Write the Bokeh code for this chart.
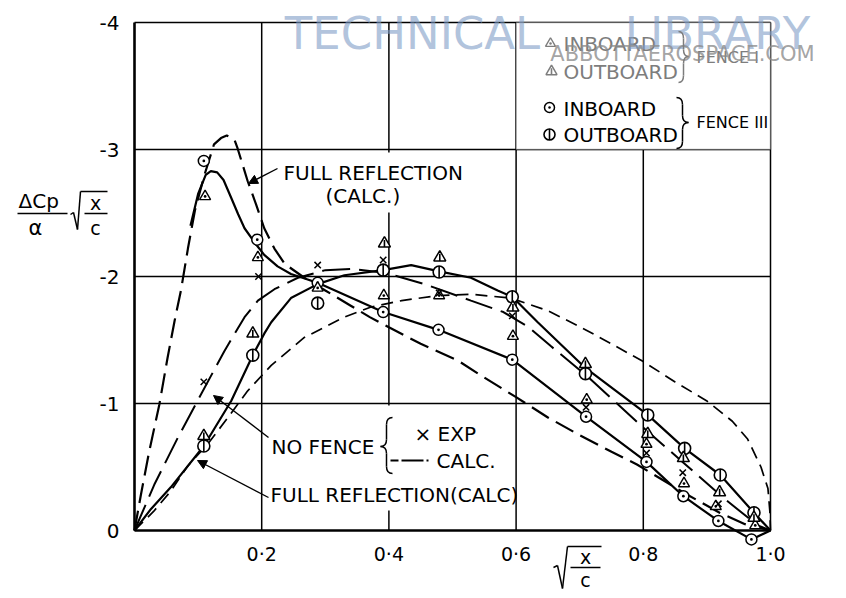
import math
from bokeh.plotting import figure
from bokeh.models import Range1d, FixedTicker, Label, Arrow, NormalHead, BoxAnnotation, LinearAxis
from bokeh.embed import file_html
from bokeh.resources import INLINE

# ---------------- data ----------------
x_ticks = [0.2, 0.4, 0.6, 0.8, 1.0]
x_tick_labels = ["0·2", "0·4", "0·6", "0·8", "1·0"]
y_ticks = [0, -1, -2, -3, -4]
y_tick_labels = ["0", "-1", "-2", "-3", "-4"]

# Full reflection (calc.) - upper, long dashes
fr_upper_x = [0, 0.010, 0.023, 0.039, 0.052, 0.063, 0.073, 0.084, 0.095, 0.110, 0.125, 0.136,
              0.145, 0.157, 0.162, 0.170, 0.178, 0.191, 0.204, 0.220, 0.236, 0.267, 0.300,
              0.340, 0.370, 0.400, 0.450, 0.508, 0.545, 0.600, 0.650, 0.700, 0.750, 0.790,
              0.830, 0.870, 0.920, 0.960, 1.000]
fr_upper_y = [0, -0.28, -0.62, -0.99, -1.36, -1.65, -1.89, -2.22, -2.52, -2.80, -3.04, -3.09,
              -3.11, -3.08, -3.01, -2.88, -2.75, -2.57, -2.38, -2.22, -2.10, -1.99, -1.89,
              -1.77, -1.68, -1.60, -1.47, -1.34, -1.22, -1.05, -0.89, -0.75, -0.62, -0.52,
              -0.40, -0.28, -0.14, -0.05, 0]

# Full reflection (calc.) - lower, short dashes
fr_lower_x = [0, 0.030, 0.057, 0.084, 0.115, 0.147, 0.178, 0.215, 0.267, 0.330, 0.372, 0.420,
              0.477, 0.530, 0.592, 0.650, 0.702, 0.750, 0.800, 0.850, 0.900, 0.940, 0.964,
              0.985, 0.996, 0.999, 1.000]
fr_lower_y = [0, -0.15, -0.31, -0.51, -0.68, -0.89, -1.10, -1.30, -1.52, -1.68, -1.76, -1.81,
              -1.85, -1.86, -1.83, -1.73, -1.60, -1.47, -1.33, -1.17, -1.02, -0.86, -0.72,
              -0.50, -0.33, -0.15, 0]

# No fence (calc.)
nf_calc_x = [0, 0.031, 0.068, 0.099, 0.141, 0.173, 0.194, 0.220, 0.257, 0.300, 0.340, 0.393,
             0.456, 0.529, 0.580, 0.620, 0.655, 0.713, 0.800, 0.864, 0.930, 0.980, 1.000]
nf_calc_y = [0, -0.36, -0.73, -1.02, -1.41, -1.68, -1.81, -1.90, -1.99, -2.05, -2.06, -2.03,
             -1.94, -1.81, -1.72, -1.60, -1.45, -1.21, -0.81, -0.53, -0.24, -0.04, 0]

# Faired curve through fence III inboard points
in_line_x = [0.088, 0.100, 0.112, 0.120, 0.130, 0.140, 0.152, 0.163, 0.173, 0.190, 0.204,
             0.225, 0.246, 0.270, 0.288, 0.391, 0.478, 0.594, 0.710, 0.805, 0.863, 0.918,
             0.970, 1.000]
in_line_y = [-2.40, -2.65, -2.80, -2.83, -2.82, -2.76, -2.62, -2.49, -2.38, -2.26, -2.17,
             -2.08, -2.02, -1.98, -1.95, -1.72, -1.58, -1.345, -0.896, -0.54, -0.27, -0.075,
             0.07, 0]

# Faired curve through fence III outboard points
out_line_x = [0, 0.026, 0.057, 0.109, 0.152, 0.186, 0.204, 0.215, 0.246, 0.288, 0.330, 0.391,
              0.435, 0.479, 0.529, 0.571, 0.594, 0.634, 0.709, 0.807, 0.865, 0.921, 0.974, 1.0]
out_line_y = [0, -0.17, -0.34, -0.665, -1.02, -1.38, -1.55, -1.64, -1.83, -1.94, -2.01, -2.05,
              -2.09, -2.04, -1.99, -1.89, -1.84, -1.64, -1.28, -0.91, -0.647, -0.437, -0.14, 0]

# Experimental points
f3_in_x = [0.109, 0.193, 0.288, 0.391, 0.478, 0.594, 0.710, 0.805, 0.863, 0.918, 0.970]
f3_in_y = [-2.91, -2.29, -1.95, -1.72, -1.58, -1.345, -0.896, -0.54, -0.27, -0.075, 0.07]

f3_out_x = [0.109, 0.186, 0.288, 0.391, 0.479, 0.594, 0.709, 0.807, 0.865, 0.921, 0.974]
f3_out_y = [-0.665, -1.38, -1.79, -2.05, -2.035, -1.84, -1.235, -0.91, -0.647, -0.437, -0.14]

f1_in_x = [0.111, 0.194, 0.288, 0.392, 0.479, 0.595, 0.711, 0.805, 0.864, 0.914, 0.976]
f1_in_y = [-2.63, -2.15, -1.91, -1.85, -1.85, -1.53, -1.03, -0.68, -0.37, -0.19, -0.04]

f1_out_x = [0.109, 0.186, 0.393, 0.480, 0.595, 0.709, 0.807, 0.863, 0.920, 0.974]
f1_out_y = [-0.744, -1.55, -2.26, -2.15, -1.755, -1.31, -0.76, -0.57, -0.30, -0.10]

nf_exp_x = [0.109, 0.195, 0.288, 0.391, 0.479, 0.594, 0.710, 0.805, 0.862, 0.918]
nf_exp_y = [-1.17, -2.00, -2.09, -2.13, -1.87, -1.69, -0.97, -0.61, -0.455, -0.21]

# ---------------- figure ----------------
FONT = "DejaVu Sans"
W, H = 846, 598
FL, FT, FW, FH = 134, 22, 636, 508   # where the data box (0..1, 0..-4) sits on the page

def X(px):
    return (px - FL) / FW

def Y(py):
    return -4.0 * (FT + FH - py) / FH

# the plotting frame covers the whole page so that the lettering round the box is not clipped
p = figure(width=W, height=H, min_border=0,
           x_range=Range1d(X(0), X(W)), y_range=Range1d(Y(H), Y(0)),
           x_axis_location=None, y_axis_location=None,
           output_backend="svg", toolbar_location=None)
p.background_fill_color = "white"
p.border_fill_color = "white"
p.outline_line_color = None
p.grid.visible = False

xaxis = LinearAxis(fixed_location=0, bounds=(0, 1), ticker=FixedTicker(ticks=x_ticks),
                   major_label_overrides={v: s for v, s in zip(x_ticks, x_tick_labels)})
yaxis = LinearAxis(fixed_location=0, bounds=(-4, 0), ticker=FixedTicker(ticks=y_ticks),
                   major_label_overrides={v: s for v, s in zip(y_ticks, y_tick_labels)})
for ax in (xaxis, yaxis):
    ax.axis_line_color = "black"
    ax.axis_line_width = 2.6
    ax.major_tick_line_color = None
    ax.minor_tick_line_color = None
    ax.major_label_text_font = FONT
    ax.major_label_text_color = "black"
xaxis.major_label_text_font_size = "19px"
xaxis.major_label_standoff = 6
yaxis.major_label_text_font_size = "20px"
yaxis.major_label_standoff = 9
p.add_layout(xaxis, "below")
p.add_layout(yaxis, "left")

# grid lines at the tick values
gx = x_ticks
gy = y_ticks[1:]
p.segment(x0=gx, y0=[y_ticks[0]] * len(gx), x1=gx, y1=[y_ticks[-1]] * len(gx),
          line_color="black", line_width=1.5, level="underlay")
p.segment(x0=[0] * len(gy), y0=gy, x1=[x_ticks[-1]] * len(gy), y1=gy,
          line_color="black", line_width=1.5, level="underlay")

# ---------------- curves ----------------
p.line(fr_upper_x, fr_upper_y, line_color="black", line_width=2.2, line_dash="20 8")
p.line(fr_lower_x, fr_lower_y, line_color="black", line_width=1.7, line_dash="12 7")
p.line(nf_calc_x, nf_calc_y, line_color="black", line_width=2.0, line_dash="28 9")
p.line(in_line_x, in_line_y, line_color="black", line_width=2.2)
p.line(out_line_x, out_line_y, line_color="black", line_width=2.2)

# ---------------- markers ----------------
def tri_in(xs, ys, color="black", level="glyph", size=11):
    p.scatter(xs, ys, marker="triangle_dot", size=size, line_color=color,
              fill_color="white", line_width=1.4, level=level)

def tri_out(xs, ys, color="black", level="glyph", size=12):
    p.scatter(xs, ys, marker="triangle", size=size, line_color=color,
              fill_color="white", line_width=1.5, level=level)
    p.scatter(xs, ys, marker="dash", angle=math.pi / 2, size=size * 0.6,
              line_color=color, line_width=1.6, level=level)

def circ_in(xs, ys, color="black", level="glyph", size=11):
    p.scatter(xs, ys, marker="circle_dot", size=size, line_color=color,
              fill_color="white", line_width=1.5, level=level)

def circ_out(xs, ys, color="black", level="glyph", size=12):
    p.scatter(xs, ys, marker="circle", size=size, line_color=color,
              fill_color="white", line_width=1.6, level=level)
    p.scatter(xs, ys, marker="dash", angle=math.pi / 2, size=size,
              line_color=color, line_width=1.6, level=level)

def cross(xs, ys, color="black", level="glyph", size=9):
    p.scatter(xs, ys, marker="x", size=size, line_color=color, line_width=1.5, level=level)

circ_in(f3_in_x, f3_in_y)
circ_out(f3_out_x, f3_out_y)
tri_in(f1_in_x, f1_in_y)
tri_out(f1_out_x, f1_out_y)
cross(nf_exp_x, nf_exp_y)

# ---------------- annotation helpers ----------------
def label(text, px, py, size=20, align="left", color="black", alpha=1.0, baseline="middle"):
    p.add_layout(Label(x=X(px), y=Y(py), text=text,
                       text_font=FONT, text_font_size=f"{size}px", text_align=align,
                       text_baseline=baseline, text_color=color, text_alpha=alpha))

def seg(px0, py0, px1, py1, width=1.5, color="black"):
    p.add_layout(Arrow(start=None, end=None, x_start=X(px0), y_start=Y(py0),
                       x_end=X(px1), y_end=Y(py1), line_width=width, line_color=color))

def arrow(px0, py0, px1, py1):
    p.add_layout(Arrow(end=NormalHead(size=9, fill_color="black", line_color="black", line_width=1),
                       x_start=X(px0), y_start=Y(py0), x_end=X(px1), y_end=Y(py1),
                       line_width=1.4, line_color="black"))

def brace(xt, yc, y0, y1, w, direction, color="black", level="overlay", lw=1.5):
    xm = xt - direction * w / 2
    xa = xt - direction * w
    r = min(7, (y1 - y0) / 4)
    q = [((xa, y0), (xm, y0), (xm, y0 + r)),
         ((xm, yc - r), (xm, yc), (xt, yc)),
         ((xt, yc), (xm, yc), (xm, yc + r)),
         ((xm, y1 - r), (xm, y1), (xa, y1))]
    p.quadratic(x0=[X(a[0]) for a, c, b in q], y0=[Y(a[1]) for a, c, b in q],
                x1=[X(b[0]) for a, c, b in q], y1=[Y(b[1]) for a, c, b in q],
                cx=[X(c[0]) for a, c, b in q], cy=[Y(c[1]) for a, c, b in q],
                line_color=color, line_width=lw, level=level)
    p.segment(x0=[X(xm), X(xm)], y0=[Y(y0 + r), Y(yc + r)],
              x1=[X(xm), X(xm)], y1=[Y(yc - r), Y(y1 - r)],
              line_color=color, line_width=lw, level=level)

# white panels that interrupt the grid behind the lettering
p.add_layout(BoxAnnotation(left=X(380), right=X(402), top=Y(152), bottom=Y(212),
                           fill_color="white", fill_alpha=1, line_color=None))
p.add_layout(BoxAnnotation(left=X(380), right=X(402), top=Y(405), bottom=Y(510),
                           fill_color="white", fill_alpha=1, line_color=None))
# legend panel
p.add_layout(BoxAnnotation(left=0.6, right=1.0, top=-4, bottom=-3,
                           fill_color="white", fill_alpha=1, line_color="black", line_width=1.5))

# ---------------- curve labels ----------------
label("FULL REFLECTION", 283, 172)
label("(CALC.)", 325, 195)
arrow(277, 168, 248, 183)

label("NO FENCE", 271, 446)
brace(380, 446, 417, 473, 12, -1)
label("× EXP", 414, 433)
p.line([X(390), X(428)], [Y(460), Y(460)], line_color="black", line_width=2.0,
       line_dash="8 3 22 3", level="overlay")
label("CALC.", 436, 460)
arrow(268, 437, 213, 395)

label("FULL REFLECTION(CALC)", 270, 494)
arrow(268, 497, 197, 460)

# ---------------- legend ----------------
GREY = "#7d7d7d"
tri_in([X(550)], [Y(43)], color=GREY, level="overlay", size=10)
label("INBOARD", 563, 43, color=GREY)
tri_out([X(551)], [Y(71)], color=GREY, level="overlay", size=11)
label("OUTBOARD", 563, 71, color=GREY)
brace(688, 56, 31, 82, 10, 1, color=GREY)
label("FENCE I", 696, 57, size=16, color=GREY)

circ_in([X(549)], [Y(107)], level="overlay", size=10)
label("INBOARD", 563, 108)
circ_out([X(549)], [Y(134)], level="overlay", size=11)
label("OUTBOARD", 563, 134)
brace(688, 122, 97, 148, 12, 1)
label("FENCE III", 696, 122, size=16)

# ---------------- axis titles ----------------
label("ΔCp", 18, 200, size=20)
seg(17, 213, 67, 213)
label("α", 28, 227, size=21)
seg(70, 214, 73, 212)
seg(73, 212, 77, 229)
seg(77, 229, 80, 191)
seg(80, 191, 107, 191)
label("x", 95, 202, size=19, align="center")
seg(84, 213, 107, 213)
label("c", 95, 227, size=19, align="center")

seg(553, 567, 557, 565)
seg(557, 565, 562, 588)
seg(562, 588, 567, 546)
seg(567, 546, 601, 546)
label("x", 585, 556, size=19, align="center")
seg(570, 567, 600, 567)
label("c", 585, 579, size=19, align="center")

# ---------------- watermark ----------------
label("TECHNICAL", 412, 33, size=45, align="center", color="#7e9cc6", alpha=0.6, baseline="alphabetic")
label("LIBRARY", 717, 33, size=45, align="center", color="#7e9cc6", alpha=0.6, baseline="alphabetic")
label("ABBOTTAEROSPACE.COM", 682, 53, size=21, align="center", color="#8c8c8c", alpha=0.8)

open("out.html", "w").write(file_html(p, INLINE))
